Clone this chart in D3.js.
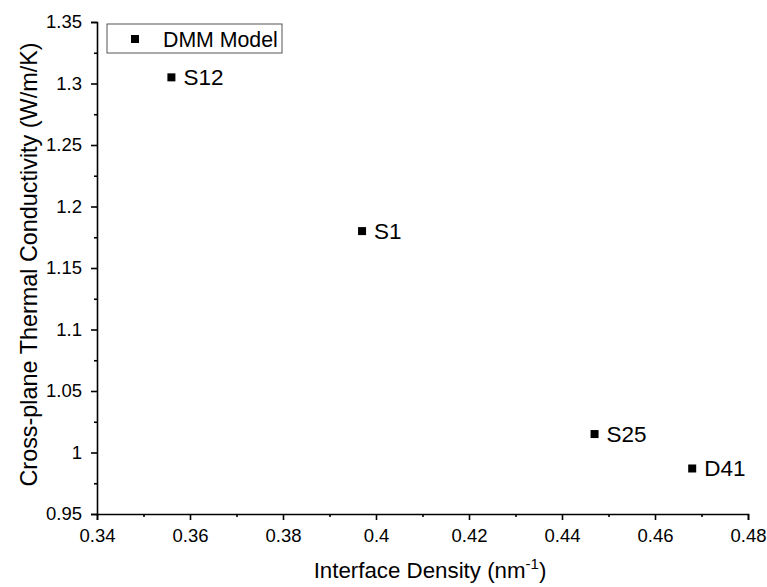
<!DOCTYPE html>
<html><head><meta charset="utf-8">
<script src="https://cdn.jsdelivr.net/npm/d3@7"></script>
<style>body{margin:0;background:#fff}text{font-family:Arial,"Liberation Sans",sans-serif}</style>
</head><body>
<svg id="c" width="767" height="587"></svg>
<script>
const labels = ["S12", "S1", "S25", "D41"];
const xValues = [0.356, 0.397, 0.447, 0.468];
const yValues = [1.305, 1.180, 1.015, 0.987];
const xTicks = [0.34, 0.36, 0.38, 0.40, 0.42, 0.44, 0.46, 0.48];
const yTicks = [0.95, 1.0, 1.05, 1.1, 1.15, 1.2, 1.25, 1.3, 1.35];
const xMinor = [0.35, 0.37, 0.39, 0.41, 0.43, 0.45, 0.47];
const yMinor = [0.975, 1.025, 1.075, 1.125, 1.175, 1.225, 1.275, 1.325];
const seriesName = "DMM Model";

const svg = d3.select("#c");
const L = 97, R = 748, T = 22, B = 514;
const x = d3.scaleLinear().domain([0.34, 0.48]).range([L, R]);
const y = d3.scaleLinear().domain([0.95, 1.35]).range([B, T]);

const fmt = d => d3.format("")(+d.toFixed(3));

const xa = svg.append("g").attr("transform", `translate(0,${B})`)
  .call(d3.axisBottom(x).tickValues(xTicks).tickFormat(fmt).tickSize(6).tickPadding(9));
const xm = svg.append("g").attr("transform", `translate(0,${B})`)
  .call(d3.axisBottom(x).tickValues(xMinor).tickFormat("").tickSize(3));
const ya = svg.append("g").attr("transform", `translate(${L},0)`)
  .call(d3.axisLeft(y).tickValues(yTicks).tickFormat(fmt).tickSize(6).tickPadding(9));
const ym = svg.append("g").attr("transform", `translate(${L},0)`)
  .call(d3.axisLeft(y).tickValues(yMinor).tickFormat("").tickSize(3));
[xa, xm, ya, ym].forEach(g => {
  g.selectAll("path").attr("stroke", "#000").attr("stroke-width", 1.6);
  g.selectAll("line").attr("stroke", "#000").attr("stroke-width", 1.6);
  g.selectAll("text").attr("fill", "#000").style("font-size", "18.5px")
    .style("font-family", "Arial, 'Liberation Sans', sans-serif");
});
xm.select("path").remove(); ym.select("path").remove();

const pts = svg.append("g");
labels.forEach((lab, i) => {
  pts.append("rect").attr("x", x(xValues[i]) - 4).attr("y", y(yValues[i]) - 4)
    .attr("width", 8).attr("height", 8).attr("fill", "#000");
  pts.append("text").attr("x", x(xValues[i]) + 12).attr("y", y(yValues[i]) + 8)
    .style("font-size", "22.5px").attr("fill", "#000").text(lab);
});

// legend
const lg = svg.append("g");
lg.append("rect").attr("x", 107).attr("y", 24).attr("width", 175).attr("height", 29)
  .attr("fill", "#fff").attr("stroke", "#555").attr("stroke-width", 1);
lg.append("rect").attr("x", 131).attr("y", 35).attr("width", 8).attr("height", 8).attr("fill", "#000");
lg.append("text").attr("x", 163).attr("y", 46.5).style("font-size", "21.3px").attr("fill", "#000").text(seriesName);

// axis titles
const xt = svg.append("text").attr("x", 430).attr("y", 578).attr("text-anchor", "middle")
  .style("font-size", "22.3px").attr("fill", "#000");
xt.append("tspan").text("Interface Density (nm");
xt.append("tspan").attr("dy", -9).style("font-size", "15px").text("-1");
xt.append("tspan").attr("dy", 9).text(")");

svg.append("text").attr("transform", `translate(37,264.5) rotate(-90)`)
  .attr("text-anchor", "middle").style("font-size", "23.4px").attr("fill", "#000")
  .text("Cross-plane Thermal Conductivity (W/m/K)");
</script>
</body></html>
